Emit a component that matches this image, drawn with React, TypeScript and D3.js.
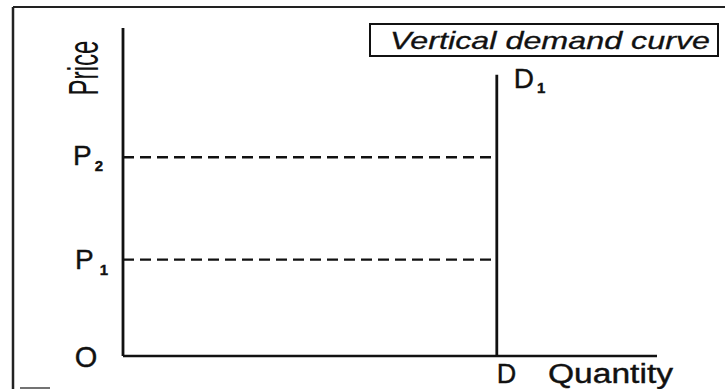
import React from "react";
import * as d3 from "d3";

const W = 725;
const H = 389;

const priceLevels = [
  { name: "P", sub: "1", value: 0.97 },
  { name: "P", sub: "2", value: 2.0 },
];
const demandQuantity = [7.0];
const demandTop = [2.83];
const axisTitles = ["Price", "Quantity"];
const boxTitle = ["Vertical demand curve"];

export default function App() {
  const x = d3.scaleLinear().domain([0, 10]).range([123, 657]);
  const y = d3.scaleLinear().domain([0, 3.3]).range([356, 28]);
  const q = demandQuantity[0];
  const font = "'Liberation Sans', Arial, sans-serif";
  const line = d3.line<[number, number]>().x((d) => x(d[0])).y((d) => y(d[1]));
  const ink = "#111";

  return (
    <svg
      width={W}
      height={H}
      style={{ position: "absolute", left: 0, top: 0, background: "#fff" }}
      fontFamily={font}
    >
      {/* outer frame */}
      <line x1={13} y1={7} x2={725} y2={7} stroke="#222" strokeWidth={2} />
      <line x1={13} y1={7} x2={13} y2={389} stroke="#222" strokeWidth={2.5} />
      <line x1={20} y1={388} x2={50} y2={388} stroke="#444" strokeWidth={1.5} />

      {/* axes */}
      <line x1={x(0)} y1={y(3.3)} x2={x(0)} y2={y(0)} stroke={ink} strokeWidth={2.8} />
      <line x1={x(0)} y1={y(0)} x2={x(10)} y2={y(0)} stroke={ink} strokeWidth={2.4} />

      {/* dashed price lines */}
      {priceLevels.map((p, i) => (
        <path
          key={i}
          d={line([[0, p.value], [q, p.value]]) || ""}
          stroke={ink}
          strokeWidth={2.4}
          strokeDasharray="11,6"
          fill="none"
        />
      ))}

      {/* vertical demand curve */}
      <path d={line([[q, 0], [q, demandTop[0]]]) || ""} stroke={ink} strokeWidth={2.8} fill="none" />

      {/* price labels */}
      {priceLevels.map((p, i) => (
        <text
          key={i}
          x={i === 0 ? 75 : 73}
          y={y(p.value) + (i === 0 ? 9 : 8)}
          fontSize={28}
          fill={ink}
          stroke={ink}
          strokeWidth={0.4}
        >
          {p.name}
          <tspan fontSize={15} dx={i === 0 ? 6 : 3} dy={6} fontWeight="bold">{p.sub}</tspan>
        </text>
      ))}
      <text x={86} y={y(0) + 11} fontSize={29} textAnchor="middle" fill={ink} stroke={ink} strokeWidth={0.4}>
        O
      </text>

      {/* axis titles */}
      <text
        transform={`translate(${98},${68}) rotate(-90)`}
        textAnchor="middle"
        fontSize={42}
        textLength={55}
        lengthAdjust="spacingAndGlyphs"
        fill={ink}
      >
        {axisTitles[0]}
      </text>
      <text x={x(q)} y={383} fontSize={27} fill={ink} stroke={ink} strokeWidth={0.4}>D</text>
      <text
        x={548}
        y={383}
        fontSize={27}
        textLength={125}
        lengthAdjust="spacingAndGlyphs"
        fill={ink}
        stroke={ink}
        strokeWidth={0.4}
      >
        {axisTitles[1]}
      </text>

      {/* D1 */}
      <text x={x(q) + 17} y={y(demandTop[0]) + 13} fontSize={28} fill={ink} stroke={ink} strokeWidth={0.4}>
        D<tspan fontSize={15} dx={3} dy={5} fontWeight="bold">1</tspan>
      </text>

      {/* box title */}
      <rect x={370} y={24} width={348} height={32} fill="none" stroke={ink} strokeWidth={2} />
      <text
        x={390}
        y={49}
        fontSize={24}
        fontStyle="italic"
        textLength={320}
        lengthAdjust="spacingAndGlyphs"
        fill={ink}
        stroke={ink}
        strokeWidth={0.3}
      >
        {boxTitle[0]}
      </text>
    </svg>
  );
}
